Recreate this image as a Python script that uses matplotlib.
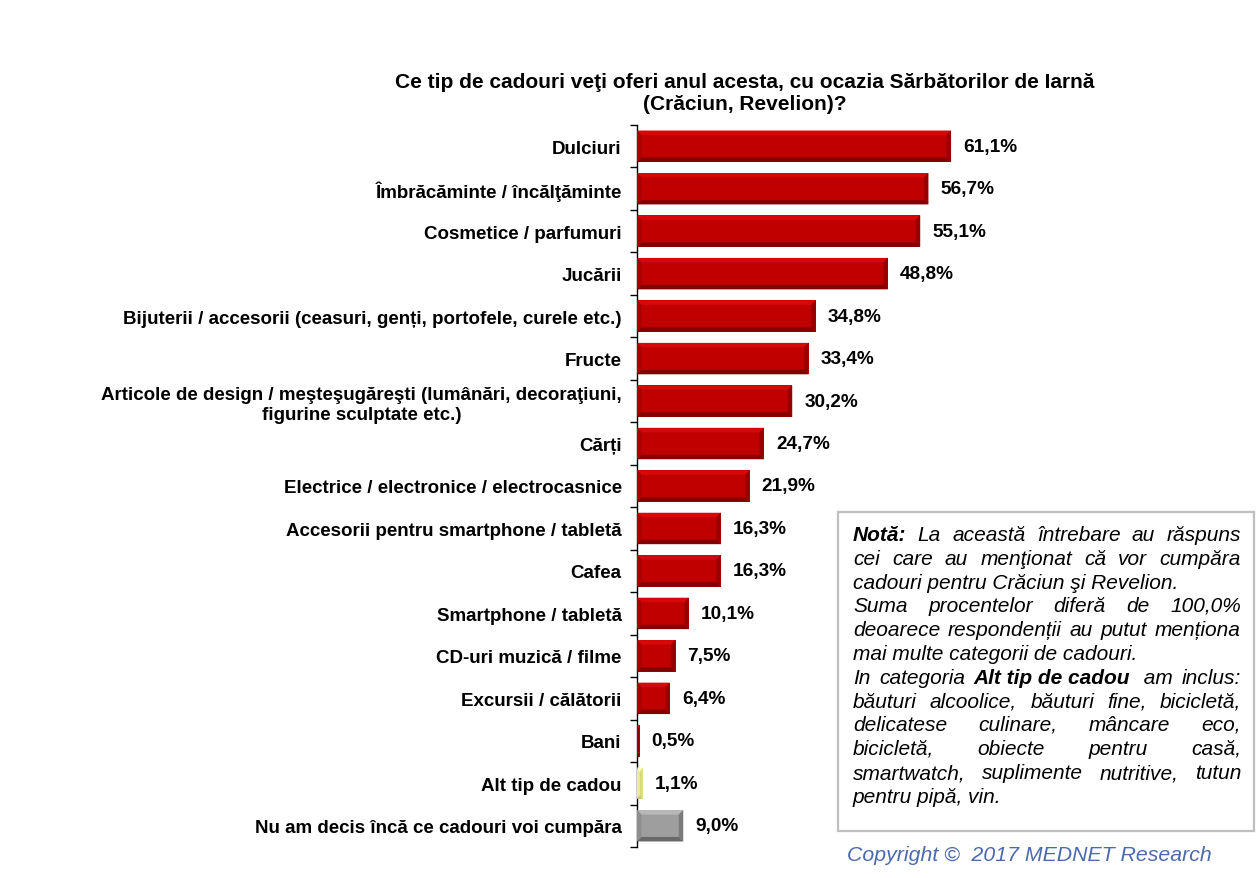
import matplotlib
matplotlib.use("Agg")
import matplotlib.pyplot as plt
from matplotlib.patches import Rectangle, Polygon

plt.rcParams['font.family'] = ['Liberation Sans', 'DejaVu Sans']

categories = [
    "Dulciuri",
    "Îmbrăcăminte / încălţăminte",
    "Cosmetice / parfumuri",
    "Jucării",
    "Bijuterii / accesorii (ceasuri, genți, portofele, curele etc.)",
    "Fructe",
    "Articole de design / meşteşugăreşti (lumânări, decoraţiuni,\nfigurine sculptate etc.)",
    "Cărți",
    "Electrice / electronice / electrocasnice",
    "Accesorii pentru smartphone / tabletă",
    "Cafea",
    "Smartphone / tabletă",
    "CD-uri muzică / filme",
    "Excursii / călătorii",
    "Bani",
    "Alt tip de cadou",
    "Nu am decis încă ce cadouri voi cumpăra",
]
values = [61.1, 56.7, 55.1, 48.8, 34.8, 33.4, 30.2, 24.7, 21.9, 16.3, 16.3,
          10.1, 7.5, 6.4, 0.5, 1.1, 9.0]
value_labels = ["61,1%", "56,7%", "55,1%", "48,8%", "34,8%", "33,4%", "30,2%",
                "24,7%", "21,9%", "16,3%", "16,3%", "10,1%", "7,5%", "6,4%",
                "0,5%", "1,1%", "9,0%"]
title = "Ce tip de cadouri veţi oferi anul acesta, cu ocazia Sărbătorilor de Iarnă\n(Crăciun, Revelion)?"

W, H = 1256, 879
fig = plt.figure(figsize=(W / 100, H / 100), dpi=100)
ax_left, ax_right, ax_top, ax_bot = 637, 1151, 126, 848
ax = fig.add_axes([ax_left / W, 1 - ax_bot / H, (ax_right - ax_left) / W, (ax_bot - ax_top) / H])

n = len(categories)
ypos = list(range(n))
ax.set_xlim(0, 100)
ax.set_ylim(n - 0.5, -0.5)

px_per_x = (ax_right - ax_left) / 100.0
px_per_y = (ax_bot - ax_top) / n
bar_h = 0.74

def colors_for(i):
    # top, left, center, right, bottom
    if categories[i].startswith("Alt tip"):
        return "#FFFFC8", "#EDED90", "#FFFF99", "#D8D880", "#C8C870"
    if categories[i].startswith("Nu am decis"):
        return "#B8B8B8", "#8E8E8E", "#9E9E9E", "#7A7A7A", "#686868"
    return "#D60808", "#A80000", "#C00000", "#980000", "#840000"

for i, v in enumerate(values):
    top_c, left_c, mid_c, right_c, bot_c = colors_for(i)
    y = ypos[i]
    y0 = y - bar_h / 2
    y1 = y + bar_h / 2
    ax.barh(y, v, height=bar_h, color=mid_c, edgecolor="none", zorder=2)
    ix = min(4.5 / px_per_x, v / 2)
    iy = 4.5 / px_per_y
    faces = [
        ([(0, y0), (v, y0), (v - ix, y0 + iy), (ix, y0 + iy)], top_c),
        ([(0, y1), (v, y1), (v - ix, y1 - iy), (ix, y1 - iy)], bot_c),
        ([(0, y0), (ix, y0 + iy), (ix, y1 - iy), (0, y1)], left_c),
        ([(v, y0), (v - ix, y0 + iy), (v - ix, y1 - iy), (v, y1)], right_c),
    ]
    for pts, c in faces:
        ax.add_patch(Polygon(pts, closed=True, facecolor=c, edgecolor="none", zorder=3))
    ax.annotate(value_labels[i], (v, y), xytext=(12, 0), textcoords="offset pixels",
                ha="left", va="center", fontsize=13.7, fontweight="bold", zorder=5)

for s in ["top", "right", "bottom"]:
    ax.spines[s].set_visible(False)
ax.spines["left"].set_linewidth(1.0)
ax.set_xticks([])
ax.set_yticks(ypos)
ax.set_yticklabels(categories, fontsize=13.5, fontweight="bold", multialignment="center")
ax.tick_params(axis="y", which="major", length=0, pad=11)
ax.set_yticks([k - 0.5 for k in range(n + 1)], minor=True)
ax.tick_params(axis="y", which="minor", length=5, width=1.0, direction="out")

fig.text(745 / W, 1 - 93 / H, title, ha="center", va="center", fontsize=15,
         fontweight="bold", linespacing=1.2)

# note box
fig.patches.append(Rectangle((838 / W, 1 - 832 / H), (1254 - 838) / W, (832 - 513) / H,
                             transform=fig.transFigure, facecolor="white",
                             edgecolor="#BFBFBF", linewidth=1.6, zorder=1))

note_lines = [
    ([("Notă:", True), ("La", False), ("această", False), ("întrebare", False), ("au", False), ("răspuns", False)], True),
    ([("cei", False), ("care", False), ("au", False), ("menţionat", False), ("că", False), ("vor", False), ("cumpăra", False)], True),
    ([("cadouri pentru Crăciun şi Revelion.", False)], False),
    ([("Suma", False), ("procentelor", False), ("diferă", False), ("de", False), ("100,0%", False)], True),
    ([("deoarece", False), ("respondenții", False), ("au", False), ("putut", False), ("menționa", False)], True),
    ([("mai multe categorii de cadouri.", False)], False),
    ([("In", False), ("categoria", False), ("Alt tip de cadou", True), (" am", False), ("inclus:", False)], True),
    ([("băuturi", False), ("alcoolice,", False), ("băuturi", False), ("fine,", False), ("bicicletă,", False)], True),
    ([("delicatese", False), ("culinare,", False), ("mâncare", False), ("eco,", False)], True),
    ([("bicicletă,", False), ("obiecte", False), ("pentru", False), ("casă,", False)], True),
    ([("smartwatch,", False), ("suplimente", False), ("nutritive,", False), ("tutun", False)], True),
    ([("pentru pipă, vin.", False)], False),
]

renderer = fig.canvas.get_renderer()
x0, x1 = 853, 1241
base0, dy = 541, 23.8
note_fs = 15
for li, (tokens, justify) in enumerate(note_lines):
    yb = 1 - round(base0 + li * dy) / H
    texts = []
    for word, bold in tokens:
        t = fig.text(0, yb, word, fontsize=note_fs, style="italic",
                     fontweight="bold" if bold else "normal", ha="left", va="baseline", zorder=3)
        texts.append(t)
    widths = [t.get_window_extent(renderer).width for t in texts]
    if justify and len(texts) > 1:
        gap = (x1 - x0 - sum(widths)) / (len(texts) - 1)
    else:
        gap = 5
    x = x0
    for t, w in zip(texts, widths):
        t.set_x(x / W)
        x += w + gap

fig.text(847 / W, 1 - 856 / H, "Copyright ©  2017 MEDNET Research", fontsize=15.3,
         style="italic", color="#4A6AAE", ha="left", va="center")

fig.savefig("out.png", dpi=100)
